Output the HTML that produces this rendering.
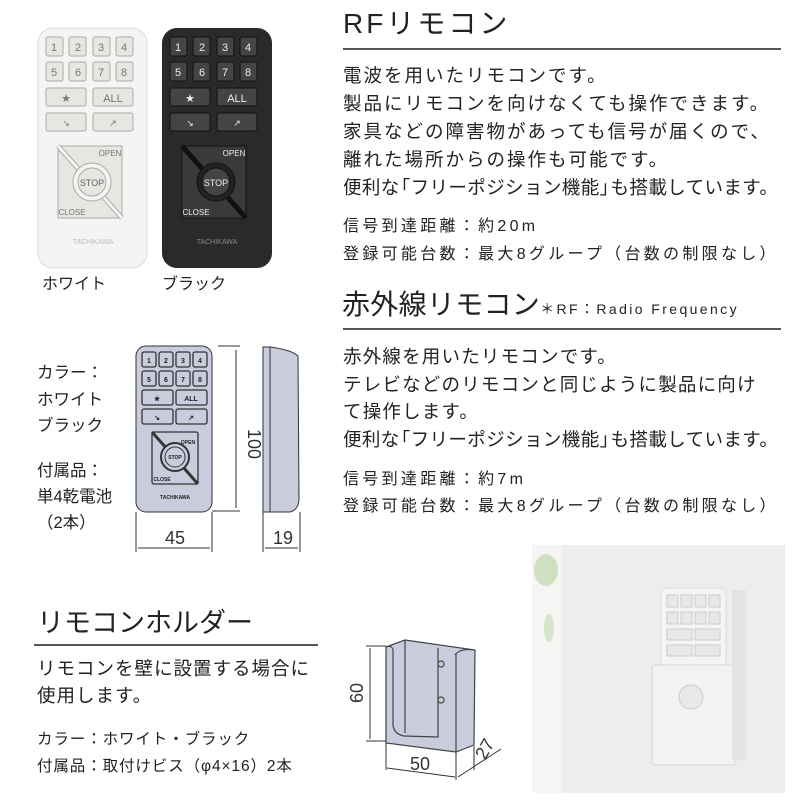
<!DOCTYPE html>
<html><head><meta charset="utf-8"><style>
body{margin:0;width:800px;height:800px;background:#fff;position:relative;overflow:hidden;font-family:"Liberation Sans","Noto Sans CJK JP",sans-serif;color:#222}
.t{position:absolute;white-space:nowrap;line-height:1}
.hr{position:absolute;height:2px;background:#555}
.bl{margin-left:-8px}.br{margin-right:-8px}
</style></head><body>
<svg width="800" height="800" style="position:absolute;left:0;top:0" font-family="Liberation Sans, sans-serif">
<defs>
<g id="wr">
 <rect x="0" y="0" width="109" height="240" rx="15" fill="#f4f4f2" stroke="#ddd"/>
 <g fill="#e6e6e3" stroke="#aaa">
  <rect x="8" y="9" width="17" height="19" rx="2"/><rect x="31" y="9" width="17" height="19" rx="2"/><rect x="55" y="9" width="17" height="19" rx="2"/><rect x="78" y="9" width="17" height="19" rx="2"/>
  <rect x="8" y="34" width="17" height="19" rx="2"/><rect x="31" y="34" width="17" height="19" rx="2"/><rect x="55" y="34" width="17" height="19" rx="2"/><rect x="78" y="34" width="17" height="19" rx="2"/>
  <rect x="8" y="60" width="40" height="18" rx="2"/><rect x="55" y="60" width="40" height="18" rx="2"/>
  <rect x="8" y="85" width="40" height="18" rx="2"/><rect x="55" y="85" width="40" height="18" rx="2"/>
  <rect x="20" y="118" width="64" height="72"/>
 </g>
 <g fill="#777" font-size="11" text-anchor="middle">
  <text x="16" y="23">1</text><text x="40" y="23">2</text><text x="63" y="23">3</text><text x="86" y="23">4</text>
  <text x="16" y="48">5</text><text x="40" y="48">6</text><text x="63" y="48">7</text><text x="86" y="48">8</text>
  <text x="28" y="74">★</text><text x="75" y="74">ALL</text>
  <text x="28" y="98" font-size="9">↘</text><text x="75" y="98" font-size="9">↗</text>
  <text x="72" y="128" font-size="8">OPEN</text><text x="34" y="187" font-size="8">CLOSE</text>
  <text x="55" y="216" font-size="7" fill="#bbb">TACHIKAWA</text>
 </g>
 <line x1="20" y1="118" x2="84" y2="190" stroke="#aaa" stroke-width="5"/>
 <line x1="20" y1="118" x2="84" y2="190" stroke="#f4f4f2" stroke-width="3"/>
 <circle cx="54" cy="154" r="19" fill="#f4f4f2" stroke="#aaa"/>
 <circle cx="54" cy="154" r="14" fill="#e6e6e3" stroke="#aaa"/>
 <text x="54" y="158" font-size="9" fill="#666" text-anchor="middle">STOP</text>
</g>
</defs>
<use href="#wr" x="38" y="28"/>
<g transform="translate(162,28)">
 <rect x="0" y="0" width="110" height="240" rx="15" fill="#2a2a2a"/>
 <g fill="#444" stroke="#111">
  <rect x="8" y="9" width="17" height="19" rx="2"/><rect x="31" y="9" width="17" height="19" rx="2"/><rect x="55" y="9" width="17" height="19" rx="2"/><rect x="78" y="9" width="17" height="19" rx="2"/>
  <rect x="8" y="34" width="17" height="19" rx="2"/><rect x="31" y="34" width="17" height="19" rx="2"/><rect x="55" y="34" width="17" height="19" rx="2"/><rect x="78" y="34" width="17" height="19" rx="2"/>
  <rect x="8" y="60" width="40" height="18" rx="2"/><rect x="55" y="60" width="40" height="18" rx="2"/>
  <rect x="8" y="85" width="40" height="18" rx="2"/><rect x="55" y="85" width="40" height="18" rx="2"/>
  <rect x="20" y="118" width="64" height="72" fill="#3a3a3a"/>
 </g>
 <g fill="#eee" font-size="11" text-anchor="middle">
  <text x="16" y="23">1</text><text x="40" y="23">2</text><text x="63" y="23">3</text><text x="86" y="23">4</text>
  <text x="16" y="48">5</text><text x="40" y="48">6</text><text x="63" y="48">7</text><text x="86" y="48">8</text>
  <text x="28" y="74">★</text><text x="75" y="74">ALL</text>
  <text x="28" y="98" font-size="9">↘</text><text x="75" y="98" font-size="9">↗</text>
  <text x="72" y="128" font-size="8">OPEN</text><text x="34" y="187" font-size="8">CLOSE</text>
  <text x="55" y="216" font-size="7" fill="#888">TACHIKAWA</text>
 </g>
 <line x1="20" y1="118" x2="84" y2="190" stroke="#111" stroke-width="5"/>
 <circle cx="54" cy="154" r="19" fill="#222" stroke="#111"/>
 <circle cx="54" cy="154" r="14" fill="#444" stroke="#111"/>
 <text x="54" y="158" font-size="9" fill="#eee" text-anchor="middle">STOP</text>
</g>
<g transform="translate(136,346)" stroke="#333">
 <rect x="0" y="0" width="76" height="166" rx="10" fill="#c9ccdc"/>
 <g fill="#c9ccdc" stroke-width="1.3">
  <rect x="6" y="6" width="14" height="15" rx="2"/><rect x="23" y="6" width="14" height="15" rx="2"/><rect x="40" y="6" width="14" height="15" rx="2"/><rect x="57" y="6" width="14" height="15" rx="2"/>
  <rect x="6" y="25" width="14" height="15" rx="2"/><rect x="23" y="25" width="14" height="15" rx="2"/><rect x="40" y="25" width="14" height="15" rx="2"/><rect x="57" y="25" width="14" height="15" rx="2"/>
  <rect x="6" y="44" width="31" height="15" rx="2"/><rect x="40" y="44" width="31" height="15" rx="2"/>
  <rect x="6" y="63" width="31" height="15" rx="2"/><rect x="40" y="63" width="31" height="15" rx="2"/>
  <rect x="16" y="86" width="46" height="52" rx="2"/>
 </g>
 <line x1="16" y1="86" x2="62" y2="138" stroke-width="3"/>
 <circle cx="39" cy="111" r="14" fill="#c9ccdc" stroke-width="2"/>
 <circle cx="39" cy="111" r="10" fill="#c9ccdc"/>
 <g fill="#222" stroke="none" font-size="7" font-weight="bold" text-anchor="middle">
  <text x="13" y="17">1</text><text x="30" y="17">2</text><text x="47" y="17">3</text><text x="64" y="17">4</text>
  <text x="13" y="36">5</text><text x="30" y="36">6</text><text x="47" y="36">7</text><text x="64" y="36">8</text>
  <text x="21" y="55">★</text><text x="55" y="55">ALL</text>
  <text x="21" y="74">↘</text><text x="55" y="74">↗</text>
  <text x="52" y="98" font-size="5">OPEN</text><text x="26" y="135" font-size="5">CLOSE</text>
  <text x="39" y="113" font-size="5">STOP</text>
  <text x="39" y="153" font-size="5">TACHIKAWA</text>
 </g>
</g>
<g stroke="#333" fill="none" stroke-width="1">
 <line x1="218" y1="346" x2="240" y2="346"/><line x1="236" y1="350" x2="236" y2="508"/><line x1="212" y1="511" x2="240" y2="511"/>
 <line x1="136" y1="512" x2="136" y2="552"/><line x1="212" y1="512" x2="212" y2="552"/><line x1="138" y1="548" x2="210" y2="548"/>
 <path d="M263 347 L270 347 Q292 350 298 356 L299 500 Q298 510 290 512 L263 512 Z" fill="#c9ccdc"/>
 <line x1="270" y1="347" x2="270" y2="512"/>
 <line x1="263" y1="512" x2="263" y2="552"/><line x1="300" y1="512" x2="300" y2="552"/><line x1="265" y1="548" x2="298" y2="548"/>
</g>
<text x="0" y="0" font-size="18" fill="#333" transform="translate(248,444) rotate(90)" text-anchor="middle">100</text>
<text x="175" y="544" font-size="18" fill="#333" text-anchor="middle">45</text>
<text x="283" y="544" font-size="18" fill="#333" text-anchor="middle">19</text>
<g stroke="#444" stroke-width="1.2">
 <path d="M386 647 L405 640 L475 650 L474 745 L456 752 L386 743 Z" fill="#c9ccdc"/>
 <path d="M386 647 Q392 645 393 650 L393 725 Q394 734 404 736 L438 737 L438 648" fill="none"/>
 <path d="M405 640 L405 733" fill="none"/>
 <path d="M456 653 L456 752" fill="none"/>
 <path d="M474 650 Q460 648 455 655" fill="none"/>
 <circle cx="441" cy="664" r="3" fill="#ccc"/><circle cx="441" cy="700" r="3" fill="#ccc"/>
</g>
<g stroke="#333" fill="none">
 <line x1="366" y1="646" x2="386" y2="646"/><line x1="366" y1="741" x2="386" y2="741"/><line x1="370" y1="648" x2="370" y2="739"/>
 <line x1="386" y1="743" x2="386" y2="770"/><line x1="456" y1="752" x2="456" y2="780"/><line x1="387" y1="768" x2="455" y2="777"/>
 <line x1="474" y1="746" x2="474" y2="770"/><line x1="458" y1="777" x2="501" y2="749"/>
</g>
<text x="420" y="770" font-size="18" fill="#333" text-anchor="middle">50</text>
<text x="0" y="0" font-size="18" fill="#333" transform="translate(363,693) rotate(-90)" text-anchor="middle">60</text>
<text x="0" y="0" font-size="18" fill="#333" transform="translate(490,752) rotate(-60)" text-anchor="middle">27</text>
<rect x="532" y="545" width="253" height="248" fill="#ededeb"/>
<rect x="532" y="545" width="30" height="248" fill="#f5f6f3"/>
<ellipse cx="546" cy="570" rx="12" ry="16" fill="#cfe0c0"/>
<ellipse cx="549" cy="628" rx="5" ry="14" fill="#d6e5c8"/>
<rect x="661" y="588" width="65" height="170" rx="5" fill="#f4f4f2" stroke="#ddd"/>
<rect x="652" y="665" width="84" height="100" rx="3" fill="#f2f2f0" stroke="#d6d6d4"/>
<rect x="732" y="590" width="14" height="170" fill="#e3e3e1"/>
<g fill="#e8e8e6" stroke="#ccc">
 <rect x="667" y="595" width="11" height="12"/><rect x="681" y="595" width="11" height="12"/><rect x="695" y="595" width="11" height="12"/><rect x="709" y="595" width="11" height="12"/>
 <rect x="667" y="612" width="11" height="12"/><rect x="681" y="612" width="11" height="12"/><rect x="695" y="612" width="11" height="12"/><rect x="709" y="612" width="11" height="12"/>
 <rect x="667" y="629" width="25" height="11"/><rect x="695" y="629" width="25" height="11"/>
 <rect x="667" y="645" width="25" height="11"/><rect x="695" y="645" width="25" height="11"/>
 <circle cx="691" cy="697" r="12"/>
</g>
</svg>

<div class="t" style="left:343px;top:10px;font-size:28px;letter-spacing:3px">RFリモコン</div>
<div class="hr" style="left:343px;top:48px;width:438px"></div>
<div class="t" style="left:343px;top:62px;font-size:18.5px;line-height:28px;letter-spacing:2px">電波を用いたリモコンです。<br>製品にリモコンを向けなくても操作できます。<br>家具などの障害物があっても信号が届くので、<br>離れた場所からの操作も可能です。<br><span style="letter-spacing:0.4px">便利な<span class="bl">「</span>フリーポジション機能<span class="br">」</span>も搭載しています。</span></div>
<div class="t" style="left:343px;top:213px;font-size:16px;line-height:28px;letter-spacing:3.3px">信号到達距離：約20m<br>登録可能台数：最大8グループ（台数の制限なし）</div>
<div class="t" style="left:342px;top:291px;font-size:28px;letter-spacing:0.3px">赤外線リモコン<span style="font-size:14px;letter-spacing:2.4px">＊RF：Radio Frequency</span></div>
<div class="hr" style="left:343px;top:328px;width:438px"></div>
<div class="t" style="left:343px;top:343px;font-size:18.5px;line-height:27.5px;letter-spacing:1.2px">赤外線を用いたリモコンです。<br>テレビなどのリモコンと同じように製品に向け<br>て操作します。<br><span style="letter-spacing:0.4px">便利な<span class="bl">「</span>フリーポジション機能<span class="br">」</span>も搭載しています。</span></div>
<div class="t" style="left:343px;top:466px;font-size:16px;line-height:27px;letter-spacing:3.3px">信号到達距離：約7m<br>登録可能台数：最大8グループ（台数の制限なし）</div>

<div class="t" style="left:42px;top:277px;font-size:16px">ホワイト</div>
<div class="t" style="left:162px;top:277px;font-size:16px">ブラック</div>
<div class="t" style="left:37px;top:360px;font-size:16.5px;line-height:26.5px">カラー：<br>ホワイト<br>ブラック</div>
<div class="t" style="left:37px;top:458px;font-size:16.5px;line-height:26px">付属品：<br>単4乾電池<br>（2本）</div>

<div class="t" style="left:37px;top:610px;font-size:27px">リモコンホルダー</div>
<div class="hr" style="left:34px;top:644px;width:284px"></div>
<div class="t" style="left:37px;top:655px;font-size:18.5px;line-height:27px;letter-spacing:1px">リモコンを壁に設置する場合に<br>使用します。</div>
<div class="t" style="left:37px;top:726px;font-size:15.5px;line-height:27px;letter-spacing:0.9px">カラー：ホワイト・ブラック<br>付属品：取付けビス（φ4×16）2本</div>
</body></html>
